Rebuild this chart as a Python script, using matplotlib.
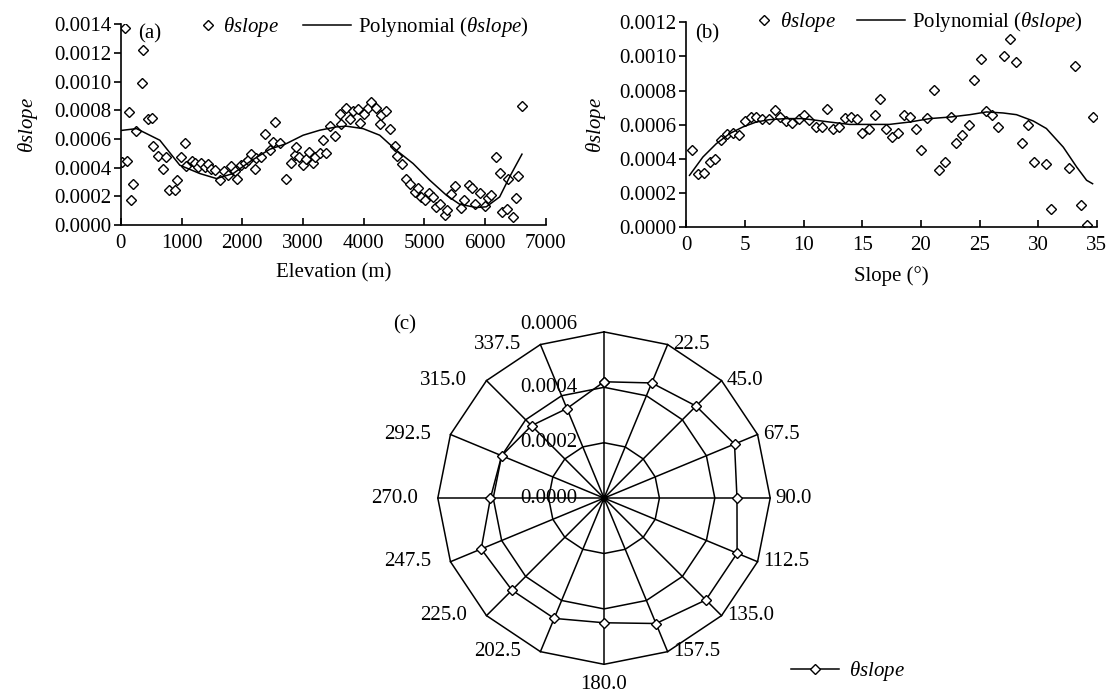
import numpy as np
import matplotlib
matplotlib.use("Agg")
import matplotlib.pyplot as plt
from matplotlib.lines import Line2D

plt.rcParams['font.family'] = ['Liberation Serif', 'DejaVu Serif']
plt.rcParams['mathtext.fontset'] = 'custom'
plt.rcParams['mathtext.rm'] = 'Liberation Serif'
plt.rcParams['mathtext.it'] = 'Liberation Serif:italic'
plt.rcParams['font.size'] = 15

#  (a) elevation data
elev = [25, 66, 94, 137, 160, 193, 247, 341, 368, 440, 506, 533, 604, 697, 736,
        796, 889, 917, 999, 1054, 1081, 1164, 1218, 1273, 1328, 1383, 1438, 1493,
        1548, 1630, 1696, 1767, 1822, 1877, 1916, 1976, 2042, 2097, 2152, 2207,
        2234, 2316, 2371, 2454, 2509, 2536, 2618, 2728, 2811, 2866, 2893, 2937,
        3003, 3058, 3102, 3168, 3195, 3278, 3332, 3387, 3453, 3536, 3607, 3634,
        3706, 3772, 3827, 3909, 3936, 4008, 4074, 4128, 4200, 4266, 4293, 4376,
        4441, 4513, 4551, 4634, 4705, 4760, 4842, 4897, 4952, 5007, 5078, 5144,
        5188, 5254, 5336, 5380, 5446, 5501, 5600, 5649, 5737, 5792, 5830, 5913,
        5995, 6050, 6105, 6187, 6242, 6286, 6363, 6379, 6462, 6517, 6544, 6610]
theta_elev = [0.000437, 0.001375, 0.000446, 0.00079, 0.000174, 0.000286, 0.000655,
              0.000992, 0.001224, 0.000737, 0.000744, 0.000553, 0.000483, 0.000392,
              0.000476, 0.000244, 0.000244, 0.000314, 0.000476, 0.000574, 0.000411,
              0.000448, 0.00043, 0.000407, 0.000434, 0.000407, 0.000425, 0.000395,
              0.000383, 0.000314, 0.000379, 0.000349, 0.000414, 0.000379, 0.000325,
              0.000418, 0.00043, 0.000453, 0.000495, 0.000395, 0.000465, 0.000476,
              0.000639, 0.000523, 0.000581, 0.00072, 0.000574, 0.000321, 0.00043,
              0.000488, 0.000546, 0.000476, 0.000418, 0.000458, 0.000511, 0.00043,
              0.000476, 0.000504, 0.000597, 0.000504, 0.00069, 0.000622, 0.000778,
              0.000708, 0.000817, 0.000743, 0.000794, 0.000813, 0.000715, 0.000778,
              0.00082, 0.000859, 0.00082, 0.000708, 0.000771, 0.000794, 0.000669,
              0.000553, 0.000481, 0.000425, 0.00032, 0.000286, 0.000228, 0.000256,
              0.000193, 0.000174, 0.000221, 0.000197, 0.000128, 0.000146, 0.00007,
              0.000105, 0.000216, 0.000274, 0.000123, 0.000174, 0.000283, 0.000256,
              0.000151, 0.000221, 0.000135, 0.00019, 0.000209, 0.000476, 0.000367,
              0.000093, 0.000116, 0.000325, 0.000054, 0.00019, 0.000344, 0.000829]
# polynomial trend line (a)
poly_elev_x = [0, 258, 642, 971, 1301, 1575, 1850, 2150, 2454, 2729, 3003, 3278,
               3552, 3717, 3991, 4266, 4540, 4815, 5089, 5364, 5583, 5858, 6022,
               6242, 6407, 6610]
poly_elev_y = [0.00066, 0.000673, 0.000592, 0.000418, 0.00036, 0.000325, 0.00036,
               0.00045, 0.000529, 0.000569, 0.000627, 0.000662, 0.000685, 0.00069,
               0.000673, 0.000627, 0.000522, 0.00043, 0.000314, 0.000209, 0.000146,
               0.000123, 0.000128, 0.000197, 0.000337, 0.000495]

#  (b) slope data
slope = [0.49, 0.97, 1.48, 1.97, 2.45, 2.96, 3.45, 3.96, 4.47, 4.96, 5.47, 5.95,
         6.47, 7.04, 7.52, 8.0, 8.52, 9.03, 9.57, 10.02, 10.45, 11.02, 11.56, 12.02,
         12.5, 13.0, 13.49, 14.06, 14.54, 15.0, 15.57, 16.05, 16.54, 17.05, 17.53,
         18.05, 18.53, 19.04, 19.55, 20.04, 20.55, 21.09, 21.55, 22.09, 22.54, 23.03,
         23.54, 24.08, 24.54, 25.08, 25.59, 26.1, 26.59, 27.07, 27.58, 28.1, 28.58,
         29.15, 29.63, 30.66, 31.09, 32.62, 33.14, 33.65, 34.13, 34.64]
theta_slope = [0.000451, 0.00031, 0.00032, 0.000382, 0.000401, 0.000509, 0.000544,
               0.000554, 0.000538, 0.000622, 0.000645, 0.000645, 0.000636, 0.000636,
               0.000685, 0.000645, 0.000622, 0.00061, 0.000636, 0.000655, 0.000626,
               0.000587, 0.000587, 0.00069, 0.000578, 0.000584, 0.000637, 0.000643,
               0.000633, 0.000553, 0.000578, 0.000659, 0.000749, 0.000578, 0.000529,
               0.000553, 0.000659, 0.000645, 0.000578, 0.000451, 0.000637, 0.000806,
               0.000334, 0.000382, 0.000645, 0.000495, 0.000542, 0.0006, 0.000864,
               0.000987, 0.000679, 0.000655, 0.000587, 0.001, 0.001104, 0.000967,
               0.000495, 0.0006, 0.000382, 0.000372, 0.000104, 0.000347, 0.000942,
               0.000132, 0.000012, 0.000645]
poly_slope_x = [0.26, 1.4, 2.54, 3.68, 4.81, 5.95, 7.09, 8.5, 9.94, 11.08, 12.2,
                13.9, 15.6, 17.3, 19.04, 20.75, 22.46, 24.17, 25.59, 27.0, 28.15,
                29.58, 30.7, 32.14, 33.28, 34.13, 34.64]
poly_slope_y = [0.000304, 0.000411, 0.000489, 0.000548, 0.000587, 0.000616, 0.00063,
                0.000636, 0.000636, 0.000626, 0.000616, 0.000602, 0.000602, 0.000602,
                0.000616, 0.000636, 0.000645, 0.000659, 0.000675, 0.000669, 0.000659,
                0.000622, 0.000578, 0.000469, 0.000353, 0.000275, 0.000255]

#  (c) aspect data
aspect = [0.0, 22.5, 45.0, 67.5, 90.0, 112.5, 135.0, 157.5, 180.0, 202.5, 225.0,
          247.5, 270.0, 292.5, 315.0, 337.5]
theta_aspect = [0.00042, 0.00045, 0.00047, 0.00051, 0.00048, 0.00052, 0.00052,
                0.00049, 0.00045, 0.00047, 0.00047, 0.00048, 0.00041, 0.00040,
                0.00037, 0.00035]
rings = [0.0002, 0.0004, 0.0006]
ring_labels = ["0.0002", "0.0004", "0.0006"]

sym = r"$\theta slope$"
mk = dict(marker="D", ms=5.5, mfc="white", mec="black", mew=1.0)

fig = plt.figure(figsize=(11.09, 6.95), dpi=100)


def style_xy(ax):
    for s in ["top", "right"]:
        ax.spines[s].set_visible(False)
    ax.spines["left"].set_linewidth(1.2)
    ax.spines["bottom"].set_linewidth(1.2)
    ax.tick_params(axis="y", direction="out", length=5, width=1.2, pad=2)
    ax.tick_params(axis="x", direction="in", length=5, width=1.2, pad=6)
    ax.yaxis.set_major_formatter(plt.FormatStrFormatter("%.4f"))


def two_legends(ax, hm, hl, x_mark, x_line, y):
    # scatter entry and trend line entry sit apart, like the Excel legend
    l1 = ax.legend([hm], [sym], loc="center left", bbox_to_anchor=(x_mark, y),
                   frameon=False, handlelength=0.9, handletextpad=0.3,
                   borderpad=0, borderaxespad=0)
    ax.add_artist(l1)
    ax.legend([hl], ["Polynomial (" + sym + ")"], loc="center left",
              bbox_to_anchor=(x_line, y), frameon=False, handlelength=2.3,
              handletextpad=0.35, borderpad=0, borderaxespad=0)


# Panel (a)
ax1 = fig.add_axes([0.109, 0.676, 0.383, 0.289])
m1, = ax1.plot(elev, theta_elev, linestyle="none", **mk)
p1, = ax1.plot(poly_elev_x, poly_elev_y, color="black", lw=1.1)
ax1.set_xlim(0, 7000)
ax1.set_ylim(0, 0.0014)
ax1.set_xticks(range(0, 7001, 1000))
ax1.set_yticks(np.arange(0, 0.00141, 0.0002))
style_xy(ax1)
ax1.set_xlabel("Elevation (m)", labelpad=8)
ax1.set_ylabel(sym, labelpad=10)
ax1.text(0.04, 0.93, "(a)", transform=ax1.transAxes)
two_legends(ax1, m1, p1, 0.182, 0.428, 0.985)

# Panel (b)
ax2 = fig.add_axes([0.619, 0.673, 0.370, 0.295])
m2, = ax2.plot(slope, theta_slope, linestyle="none", **mk)
p2, = ax2.plot(poly_slope_x, poly_slope_y, color="black", lw=1.1)
ax2.set_xlim(0, 35)
ax2.set_ylim(0, 0.0012)
ax2.set_xticks(range(0, 36, 5))
ax2.set_yticks(np.arange(0, 0.00121, 0.0002))
style_xy(ax2)
ax2.set_xlabel("Slope (°)", labelpad=8)
ax2.set_ylabel(sym, labelpad=8)
ax2.text(0.02, 0.92, "(b)", transform=ax2.transAxes)
two_legends(ax2, m2, p2, 0.166, 0.415, 1.0)

# Panel (c) radar
ax3 = fig.add_axes([0.3697, 0.0043, 0.3499, 0.558])
ax3.set_xlim(-0.0007, 0.0007)
ax3.set_ylim(-0.0007, 0.0007)
ax3.set_aspect("equal")
ax3.axis("off")

ang = np.deg2rad(aspect)
ang_c = np.append(ang, ang[0])
for r in rings:
    ax3.plot(r * np.sin(ang_c), r * np.cos(ang_c), color="black", lw=1.1)
for a in ang:
    ax3.plot([0, rings[-1] * np.sin(a)], [0, rings[-1] * np.cos(a)], color="black", lw=1.1)
vals_c = np.append(theta_aspect, theta_aspect[0])
ax3.plot(vals_c * np.sin(ang_c), vals_c * np.cos(ang_c), color="black", lw=1.1, **mk)
ax3.plot([0], [0], "o", color="black", ms=4)

# angle labels
for a_deg, a in zip(aspect, ang):
    if a_deg == 0.0:
        continue
    x = rings[-1] * np.sin(a)
    y = rings[-1] * np.cos(a)
    if a_deg == 180.0:
        ax3.annotate("%.1f" % a_deg, (x, y), xytext=(0, -8), textcoords="offset points",
                     ha="center", va="top", annotation_clip=False)
    elif a_deg < 180:
        ax3.annotate("%.1f" % a_deg, (x, y), xytext=(4, 0), textcoords="offset points",
                     ha="left", va="center", annotation_clip=False)
    else:
        ax3.annotate("%.1f" % a_deg, (x, y), xytext=(-14, 0), textcoords="offset points",
                     ha="right", va="center", annotation_clip=False)

# value labels
ax3.annotate("0.0000", (0, 0), xytext=(-19, 0), textcoords="offset points",
             ha="right", va="center")
for r, lab in zip(rings, ring_labels):
    dy = 5 if r == rings[-1] else 0
    ax3.annotate(lab, (0, r), xytext=(-19, dy), textcoords="offset points",
                 ha="right", va="center", annotation_clip=False)
fig.text(393 / 1109, 1 - 325 / 695, "(c)", ha="left", va="center")

leg_h = [Line2D([], [], color="black", lw=1.1, **mk)]
fig.legend(leg_h, [sym], loc="center left", bbox_to_anchor=(781 / 1109, 1 - 671 / 695),
           frameon=False, handlelength=2.3, handletextpad=0.45, borderpad=0)

fig.savefig("out.png", dpi=100)
